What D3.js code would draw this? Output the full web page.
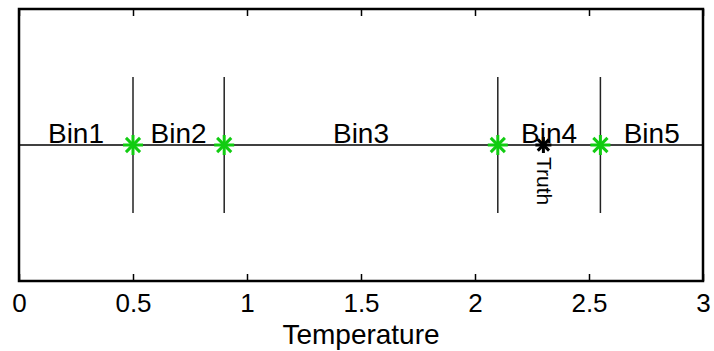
<!DOCTYPE html>
<html><head><meta charset="utf-8">
<script src="https://cdn.jsdelivr.net/npm/d3@7"></script>
<style>body{margin:0;background:#fff}svg{display:block}text{font-family:"Liberation Sans",Arial,Helvetica,sans-serif;fill:#000}</style>
</head><body>
<script>
const binEdges = [0.5, 0.9, 2.1, 2.55];
const binNames = ["Bin1","Bin2","Bin3","Bin4","Bin5"];
const truthValue = 2.3;
const truthLabel = "Truth";
const xTicks = [0, 0.5, 1, 1.5, 2, 2.5, 3];
const xDomain = [0, 3];
const yDomain = [-1, 1];
const xLabel = "Temperature";

const W = 714, H = 351;
const m = {left:19, right:11, top:9, bottom:70};
const svg = d3.select("body").append("svg").attr("width", W).attr("height", H);
const x = d3.scaleLinear().domain(xDomain).range([m.left, W - m.right]);
const y = d3.scaleLinear().domain(yDomain).range([H - m.bottom, m.top]);

// horizontal line
svg.append("line").attr("x1", x(0)).attr("x2", x(3)).attr("y1", y(0)).attr("y2", y(0))
  .attr("stroke", "#000").attr("stroke-width", 1.6);

// vertical bin boundaries
svg.selectAll(".edge").data(binEdges).enter().append("line")
  .attr("x1", d => x(d)).attr("x2", d => x(d))
  .attr("y1", y(0.5)).attr("y2", y(-0.5))
  .attr("stroke", "#222").attr("stroke-width", 1.5);

// bin labels at bin centers
const bounds = [xDomain[0], ...binEdges, xDomain[1]];
svg.selectAll(".bin").data(binNames).enter().append("text")
  .attr("x", (d, i) => x((bounds[i] + bounds[i+1]) / 2))
  .attr("y", y(0) - 2)
  .attr("text-anchor", "middle").attr("font-size", 28).text(d => d);

// asterisk marker
function asterisk(g, cx, cy, r, color, sw) {
  const a = r * Math.SQRT1_2;
  const segs = [[0,-r,0,r],[-r,0,r,0],[-a,-a,a,a],[-a,a,a,-a]];
  g.selectAll(null).data(segs).enter().append("line")
    .attr("x1", s => cx + s[0]).attr("y1", s => cy + s[1])
    .attr("x2", s => cx + s[2]).attr("y2", s => cy + s[3])
    .attr("stroke", color).attr("stroke-width", sw);
}
binEdges.forEach(e => asterisk(svg.append("g"), x(e), y(0), 10, "#11cc11", 3));
asterisk(svg.append("g"), x(truthValue), y(0), 8, "#000", 3);

svg.append("text")
  .attr("transform", `translate(${x(truthValue) - 6},${y(0) + 12}) rotate(90)`)
  .attr("font-size", 21).text(truthLabel);

// axes box
const xb = d3.axisBottom(x).tickValues(xTicks).tickSizeInner(-7).tickSizeOuter(0)
  .tickFormat(d3.format("~g")).tickPadding(13);
const gb = svg.append("g").attr("transform", `translate(0,${y(-1)})`).call(xb);
gb.select(".domain").remove();
gb.selectAll("line").attr("stroke", "#000").attr("stroke-width", 1.5);
gb.selectAll("text").attr("font-size", 26).attr("font-family", "Liberation Sans, Arial, sans-serif").attr("fill", "#000")
  .attr("dy", "0.71em");
const xt = d3.axisTop(x).tickValues(xTicks).tickSizeInner(-7).tickSizeOuter(0).tickFormat("");
const gt = svg.append("g").attr("transform", `translate(0,${y(1)})`).call(xt);
gt.select(".domain").remove();
gt.selectAll("line").attr("stroke", "#000").attr("stroke-width", 1.5);

svg.append("rect").attr("x", x(0)).attr("y", y(1)).attr("width", x(3) - x(0)).attr("height", y(-1) - y(1))
  .attr("fill", "none").attr("stroke", "#000").attr("stroke-width", 2.5);

svg.append("text").attr("x", (x(0) + x(3)) / 2).attr("y", 344).attr("text-anchor", "middle")
  .attr("font-size", 28).text(xLabel);
</script>
</body></html>
